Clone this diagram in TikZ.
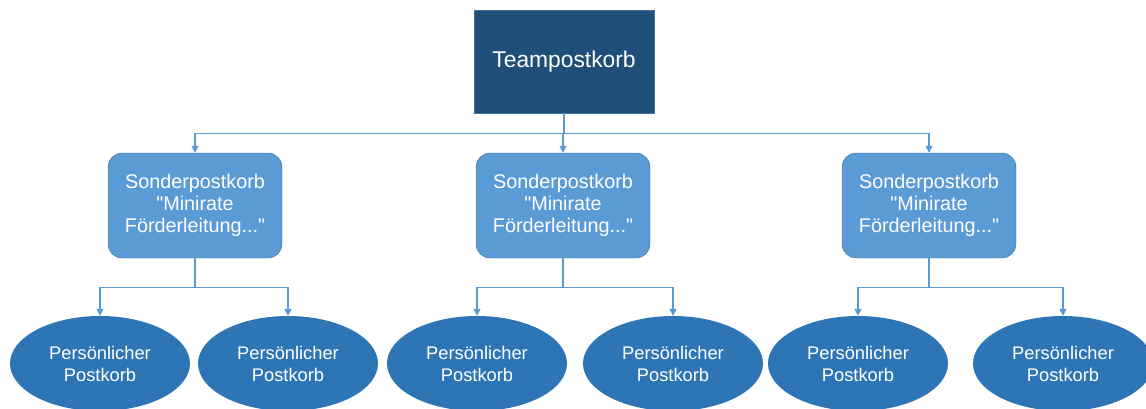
\documentclass[tikz,border=0pt]{standalone}
\usepackage{fontspec}
\setmainfont{Liberation Sans}[Ligatures=TeXOff]
\usepackage{tikz}
\usetikzlibrary{shapes,arrows.meta,positioning,calc}

\definecolor{teamblue}{HTML}{1F4E79}
\definecolor{sonderblue}{HTML}{5B9BD5}
\definecolor{persblue}{HTML}{2E75B6}
\definecolor{edgeblue}{HTML}{41719C}
\definecolor{lineblue}{HTML}{5B9BD5}

\tikzset{
    teambox/.style={draw=edgeblue, fill=teamblue, rectangle, minimum width=180pt, minimum height=103pt,
        text=white, font=\fontsize{22.8}{27}\selectfont},
    sonderbox/.style={draw=edgeblue, fill=sonderblue, rectangle, rounded corners=14pt, minimum width=174pt,
        minimum height=105pt, text=white, align=center, font=\fontsize{19.8}{22}\selectfont},
    persell/.style={fill=persblue, ellipse, minimum width=180pt, minimum height=95pt, inner sep=0pt,
        text=white, align=center, font=\fontsize{18.3}{22}\selectfont},
    link/.style={draw=lineblue, line width=1.3pt, -{Triangle[width=7pt,length=7pt]}}
}

\begin{document}
\begin{tikzpicture}[x=1pt, y=-1pt]
    \useasboundingbox (0,0) rectangle (1146,408);

    % Team box
    \node[teambox] (team) at (564,61.5) {Teampostkorb};

    % Sonderpostkoerbe
    \node[sonderbox] (sonder1) at (195,205.5) {Sonderpostkorb\\"Minirate\\Förderleitung..."};
    \node[sonderbox] (sonder2) at (563,205.5) {Sonderpostkorb\\"Minirate\\Förderleitung..."};
    \node[sonderbox] (sonder3) at (929,205.5) {Sonderpostkorb\\"Minirate\\Förderleitung..."};

    % Persoenliche Postkoerbe
    \node[persell] (pers1) at (100,363.5) {Persönlicher\\Postkorb};
    \node[persell] (pers2) at (288,363.5) {Persönlicher\\Postkorb};
    \node[persell] (pers3) at (477,363.5) {Persönlicher\\Postkorb};
    \node[persell] (pers4) at (673,363.5) {Persönlicher\\Postkorb};
    \node[persell] (pers5) at (858,363.5) {Persönlicher\\Postkorb};
    \node[persell] (pers6) at (1063,363.5) {Persönlicher\\Postkorb};

    % Connectors
    \foreach \s in {sonder1,sonder2,sonder3}
        \draw[link] (team.south) -- ++(0,20) -| (\s.north);
    \draw[link] (sonder1.south) -- ++(0,29) -| (pers1.north);
    \draw[link] (sonder1.south) -- ++(0,29) -| (pers2.north);
    \draw[link] (sonder2.south) -- ++(0,29) -| (pers3.north);
    \draw[link] (sonder2.south) -- ++(0,29) -| (pers4.north);
    \draw[link] (sonder3.south) -- ++(0,29) -| (pers5.north);
    \draw[link] (sonder3.south) -- ++(0,29) -| (pers6.north);
\end{tikzpicture}
\end{document}
